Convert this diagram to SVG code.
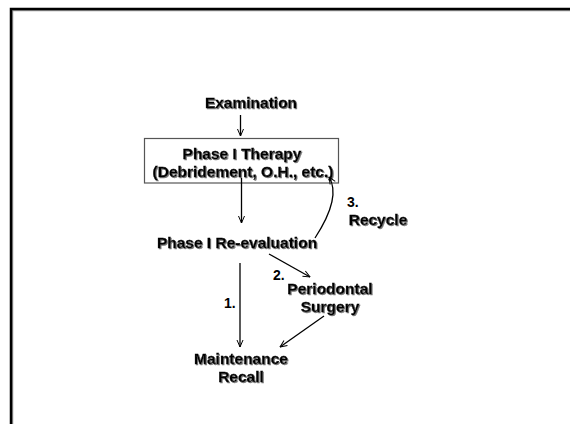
<svg xmlns="http://www.w3.org/2000/svg" width="570" height="424" viewBox="0 0 570 424">
<defs>
<filter id="sh" x="-5%" y="-20%" width="110%" height="150%">
<feOffset in="SourceAlpha" dx="1" dy="1" result="o"/>
<feFlood flood-color="#777"/>
<feComposite in2="o" operator="in" result="s"/>
<feMerge><feMergeNode in="s"/><feMergeNode in="SourceGraphic"/></feMerge>
</filter>
<marker id="ah" viewBox="0 0 8 8" refX="7.5" refY="4" markerWidth="8" markerHeight="8" markerUnits="userSpaceOnUse" orient="auto">
<path d="M0.5,1 L7.5,4 L0.5,7" fill="none" stroke="#000" stroke-width="1"/>
</marker>
</defs>
<style>
.t{font-family:"Liberation Sans",Arial,sans-serif;font-weight:bold;font-size:15.5px;fill:#000;stroke:#000;stroke-width:0.3;text-anchor:middle;filter:url(#sh)}
.n{font-family:"Liberation Sans",Arial,sans-serif;font-weight:bold;font-size:14px;fill:#000}
.c{fill:none;stroke:#000;stroke-width:1.3}
</style>
<rect width="570" height="424" fill="#fff"/>
<path d="M12.5,424 V10.5 H570" fill="none" stroke="#999" stroke-width="1.5"/>
<path d="M11,424 V9 H570" fill="none" stroke="#000" stroke-width="2.5"/>
<g id="examination"><text class="t" x="251" y="108">Examination</text></g>
<g id="phase1therapy">
<rect x="144.5" y="138.5" width="194" height="44.5" fill="none" stroke="#555" stroke-width="1.2"/>
<text class="t" x="242" y="159">Phase I Therapy</text>
<text class="t" x="243" y="177">(Debridement, O.H., etc.)</text>
</g>
<g id="reevaluation"><text class="t" x="237" y="248">Phase I Re-evaluation</text></g>
<g id="recycle"><text class="n" x="347" y="207">3.</text><text class="t" x="378" y="225">Recycle</text></g>
<g id="surgery"><text class="n" x="273" y="280">2.</text><text class="t" x="330" y="294">Periodontal</text><text class="t" x="330" y="312">Surgery</text></g>
<g id="maintenance"><text class="n" x="224" y="308">1.</text><text class="t" x="241" y="364">Maintenance</text><text class="t" x="241" y="382">Recall</text></g>
<g id="connectors">
<line class="c" x1="240.5" y1="115" x2="240.5" y2="136" marker-end="url(#ah)"/>
<line class="c" x1="241.5" y1="178" x2="241.5" y2="223" marker-end="url(#ah)"/>
<path class="c" d="M315,238 C330,215 339,193 329,177" marker-end="url(#ah)"/>
<line class="c" x1="269" y1="254" x2="310" y2="277" marker-end="url(#ah)"/>
<line class="c" x1="240" y1="263" x2="240" y2="347" marker-end="url(#ah)"/>
<line class="c" x1="324" y1="316" x2="280" y2="347" marker-end="url(#ah)"/>
</g>
</svg>
